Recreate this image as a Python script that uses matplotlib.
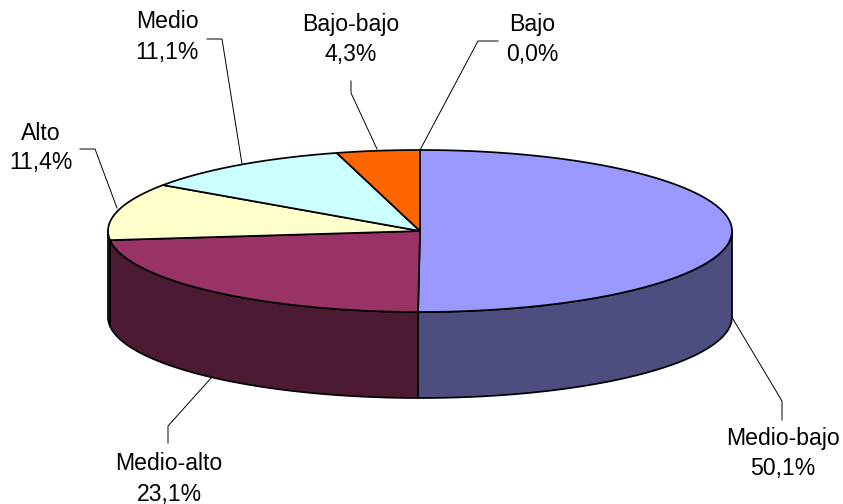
import numpy as np
import matplotlib
matplotlib.use("Agg")
import matplotlib.pyplot as plt
from matplotlib.patches import Polygon

categories = ["Medio-bajo", "Medio-alto", "Alto", "Medio", "Bajo-bajo", "Bajo"]
values = [50.1, 23.1, 11.4, 11.1, 4.3, 0.0]
value_labels = ["50,1%", "23,1%", "11,4%", "11,1%", "4,3%", "0,0%"]
top_colors = ["#9999FF", "#993366", "#FFFFCC", "#CCFFFF", "#FF6600", "#666699"]
side_colors = ["#4D4D80", "#4D1A33", "#808066", "#668080", "#803300", "#333350"]

# Layout, in pixels
CX, CY, RX, RY, DEPTH = 420.0, 231.0, 312.0, 81.0, 86.0
label_pos = [(783, 439), (169, 464), (41, 133), (167, 22), (351, 24), (532, 24)]
leaders = [
    [(733, 319), (782, 401), (782, 420)],
    [(212, 377), (168, 426), (168, 443)],
    [(117, 208), (95, 149), (80, 149)],
    [(242, 164), (222, 39), (207, 39)],
    [(377, 149), (351, 93), (351, 81)],
    [(420, 150), (478, 41), (498, 41)],
]

fig = plt.figure(figsize=(8.43, 5.04), dpi=100)
ax = fig.add_axes([0, 0, 1, 1])
ax.set_xlim(0, 843)
ax.set_ylim(504, 0)
ax.axis("off")


def rim(t, dy=0.0):
    return np.column_stack([CX + RX * np.sin(t), CY - RY * np.cos(t) + dy])


edges = np.deg2rad(np.concatenate([[0], np.cumsum(values)]) * 3.6)
LW = 1.25

# Visible side walls (front half of the disc)
for i in range(len(values)):
    a, b = max(edges[i], np.pi / 2), min(edges[i + 1], 3 * np.pi / 2)
    if b <= a:
        continue
    t = np.linspace(a, b, 200)
    pts = np.vstack([rim(t), rim(t[::-1], DEPTH)])
    ax.add_patch(Polygon(pts, closed=True, fc=side_colors[i], ec="black", lw=LW, joinstyle="round"))

# Top faces
for i in range(len(values)):
    a, b = edges[i], edges[i + 1]
    if b <= a:
        continue
    t = np.linspace(a, b, 300)
    pts = np.vstack([[CX, CY], rim(t)])
    ax.add_patch(Polygon(pts, closed=True, fc=top_colors[i], ec="black", lw=LW, joinstyle="round"))

# Leader lines and labels
for pts in leaders:
    xs, ys = zip(*pts)
    ax.plot(xs, ys, color="black", lw=0.7, solid_joinstyle="miter")

for name, val, (x, y) in zip(categories, value_labels, label_pos):
    for txt, yy in ((name, y), (val, y + 30)):
        ax.text(x, yy, txt, ha="center", va="center", fontsize=16.6,
                family=["Liberation Sans"], color="black")

fig.savefig("out.png", dpi=100)
